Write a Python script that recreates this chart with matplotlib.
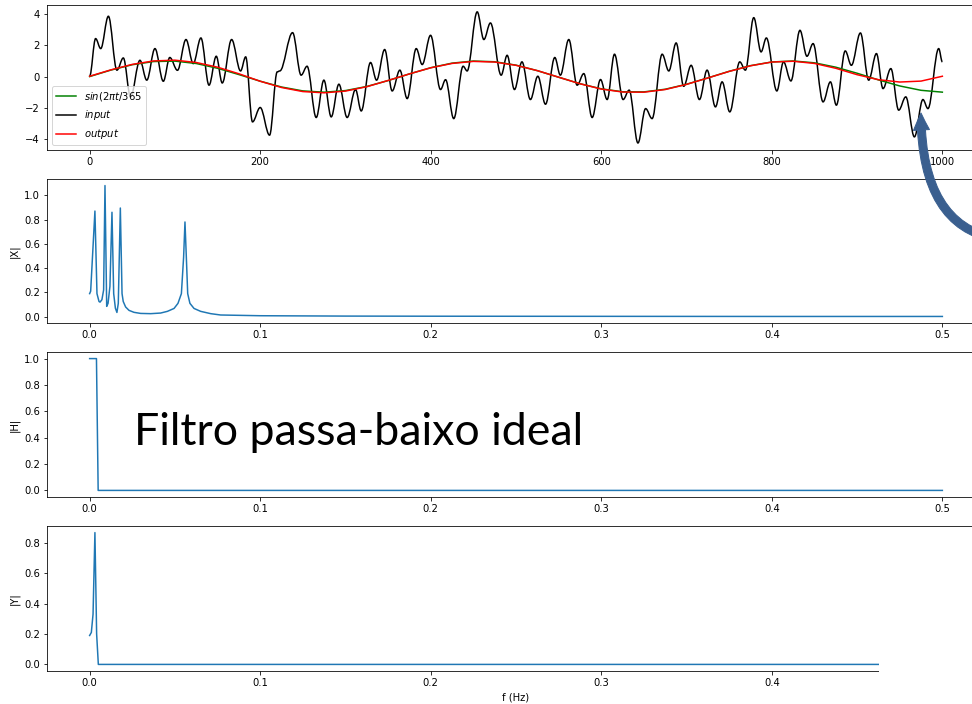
import numpy as np
import matplotlib
matplotlib.use("Agg")
import matplotlib.pyplot as plt
from matplotlib.patches import FancyArrowPatch, Rectangle, PathPatch
from matplotlib.lines import Line2D
from matplotlib.path import Path

# sinal de entrada (maximos e minimos locais)
t_in = [0, 7, 13, 22, 32, 39.5, 48, 59, 67, 76.6, 86.4, 94, 103, 113, 121.5, 130.5,
        140, 148.5, 155.5, 166.5, 177, 183, 191, 200, 211, 220, 223, 238, 248, 255,
        265.7, 274.7, 283.3, 292.3, 302, 311.8, 318.5, 329.4, 336.5, 346, 354.8, 363.8,
        372.4, 383, 390, 399.8, 411.5, 417.4, 427, 438, 442.7, 454.5, 462.3, 470, 482.6,
        489.6, 498.2, 507, 516.9, 525.6, 534.6, 545.5, 552, 561.9, 571.7, 579.5, 589.3,
        599.1, 606.9, 615.5, 625.6, 632.7, 643, 652, 659.6, 671.4, 679.2, 687.8, 696.7,
        705.4, 715.1, 724.1, 733.9, 741.7, 750.7, 762.4, 769, 778.8, 787.4, 793.6, 805.9,
        813.7, 822.4, 833, 841.2, 848.4, 860.1, 868.7, 875.7, 886.1, 893.3, 903.9, 913.6,
        922.7, 930.4, 939.6, 948.8, 957.1, 967.2, 977.2, 983.1, 995.7, 1000]
x_in = [0.02, 2.43, 1.79, 3.86, 0.41, 1.19, -1.3, 1.04, -0.23, 1.79, -0.30, 1.22, 0.40, 2.37, 0.83, 2.47,
        -0.55, 1.30, -0.41, 2.37, 0.36, 1.26, -2.9, -1.98, -3.75, 0.30, 0.36, 2.81, 0.09, 0.66,
        -2.62, -0.23, -2.58, -0.49, -2.62, -0.83, -2.2, 0.90, -0.23, 1.73, -0.92, 0.41,
        -1.41, 1.79, 0.77, 2.64, -0.83, -0.2, -2.69, 0.66, 0.36, 4.14, 2.37, 3.43, 0.09,
        1.36, -0.83, 0.94, -1.47, 0.02, -1.77, 1.22, 0.09, 2.37, -0.55, 0.19, -2.62,
        -0.19, -1.47, 1.43, -1.47, -0.87, -4.25, -2.05, -2.69, 1.43, 0.36, 2.15, -0.62,
        0.72, -1.47, 0.41, -1.94, -0.34, -2.26, 0.94, 0.41, 3.77, 1.58, 2.47, -0.92,
        0.94, -0.28, 2.96, 1.3, 2.11, -1.62, -0.34, -1.83, 1.64, 0.72, 2.79, -0.23,
        1.47, -0.77, 0.51, -2.15, -1.30, -3.86, -1.47, -2.05, 1.79, 0.94]

t_s = np.arange(0, 1001, 25)
seno = [0, 0.417, 0.758, 0.961, 0.989, 0.836, 0.531, 0.128, -0.296, -0.668, -0.918,
        -1.0, -0.897, -0.635, -0.257, 0.171, 0.567, 0.859, 0.994, 0.948, 0.730, 0.378,
        -0.043, -0.456, -0.786, -0.972, -0.981, -0.811, -0.493, -0.086, 0.337, 0.699,
        0.934, 0.998, 0.880, 0.600, 0.213, -0.213, -0.601, -0.880, -0.998]
saida = [0.02, 0.43, 0.78, 1.0, 1.05, 0.9, 0.6, 0.18, -0.3, -0.7, -0.96,
         -1.04, -0.93, -0.65, -0.25, 0.17, 0.56, 0.84, 0.97, 0.93, 0.72, 0.38,
         -0.04, -0.46, -0.8, -0.99, -1.0, -0.83, -0.5, -0.09, 0.33, 0.69,
         0.93, 0.98, 0.84, 0.53, 0.12, -0.2, -0.35, -0.29, 0.02]

# espectros
fX = [0.0, 0.0006, 0.0031, 0.0043, 0.0055, 0.0061, 0.0072, 0.0082, 0.0090, 0.0100, 0.0108,
      0.0119, 0.0131, 0.0141, 0.0151, 0.0160, 0.0168, 0.0180, 0.0190, 0.0197, 0.0211, 0.0231,
      0.0260, 0.0299, 0.0358, 0.0416, 0.0456, 0.0495, 0.0518, 0.0538, 0.0551, 0.0559, 0.0567,
      0.0575, 0.0588, 0.0612, 0.0651, 0.0710, 0.0768, 0.1, 0.15, 0.2, 0.3, 0.4, 0.5]
X = [0.19, 0.21, 0.87, 0.19, 0.125, 0.12, 0.14, 0.22, 1.08, 0.085, 0.11,
     0.25, 0.86, 0.19, 0.07, 0.035, 0.11, 0.895, 0.19, 0.125, 0.08, 0.052,
     0.036, 0.027, 0.025, 0.03, 0.044, 0.068, 0.11, 0.19, 0.49, 0.78, 0.49,
     0.19, 0.11, 0.068, 0.044, 0.025, 0.014, 0.008, 0.005, 0.004, 0.003, 0.002, 0.002]

fH = [0.0, 0.004, 0.005, 0.5]
H = [1.0, 1.0, 0.0, 0.0]

fY = [0.0, 0.001, 0.002, 0.0031, 0.0041, 0.0051, 0.5]
Y = [0.19, 0.21, 0.33, 0.866, 0.2, 0.0, 0.0]

W, Hpx = 972, 704
fig = plt.figure(figsize=(W / 72, Hpx / 72), dpi=72)

def pos(top, bottom, left=47, right=985):
    return [left / W, 1 - bottom / Hpx, (right - left) / W, (bottom - top) / Hpx]

ax1 = fig.add_axes(pos(5, 150))
ax2 = fig.add_axes(pos(179, 323))
ax3 = fig.add_axes(pos(352, 497))
ax4 = fig.add_axes(pos(526, 671))

ax1.plot(t_s, seno, color="green")

# curva de entrada desenhada com bezier (tangente horizontal nos extremos)
verts = [(t_in[0], x_in[0])]
codes = [Path.MOVETO]
for i in range(1, len(t_in)):
    t0, v0, t1, v1 = t_in[i - 1], x_in[i - 1], t_in[i], x_in[i]
    d = (t1 - t0) * 0.36
    verts += [(t0 + d, v0), (t1 - d, v1), (t1, v1)]
    codes += [Path.CURVE4] * 3
ax1.add_patch(PathPatch(Path(verts, codes), facecolor="none", edgecolor="black", lw=1.5))

ax1.plot(t_s, saida, color="red")
ax1.set_xlim(-50, 1050)
ax1.set_ylim(-4.70, 4.58)
handles = [Line2D([], [], color="green"), Line2D([], [], color="black"),
           Line2D([], [], color="red")]
ax1.legend(handles, ["$sin(2\\pi t/365$", "$input$", "$output$"], loc="lower left")

ax2.plot(fX, X)
ax2.set_ylabel("|X|")
ax3.plot(fH, H)
ax3.set_ylabel("|H|")
ax4.plot(fY, Y)
ax4.set_ylabel("|Y|")
ax4.set_xlabel("f (Hz)")
for ax in (ax2, ax3, ax4):
    ax.set_xlim(-0.025, 0.525)

# recorte do slide no canto inferior direito
fig.add_artist(Rectangle((879 / W, 0), 1, 1 - 529 / Hpx, transform=fig.transFigure,
                         facecolor="white", edgecolor="none", zorder=10))

# texto do slide
txt = fig.text(134 / W, 1 - 445 / Hpx, "Filtro passa-baixo ideal", fontsize=50,
               family="Lato", ha="left", va="baseline", color="black")
r = fig.canvas.get_renderer()
wtxt = txt.get_window_extent(r).width
txt.set_fontsize(50 * 450 / wtxt)

# seta curva
pts = [(1005 / W, 1 - 240 / Hpx), (921 / W, 1 - 232 / Hpx), (921 / W, 1 - 113 / Hpx)]
seta = FancyArrowPatch(path=Path(pts, [Path.MOVETO, Path.CURVE3, Path.CURVE3]),
                       transform=fig.transFigure,
                       arrowstyle="simple,head_length=17,head_width=16,tail_width=8",
                       mutation_scale=1, color="#3A5F8F", zorder=11)
fig.add_artist(seta)

fig.savefig("out.png", dpi=72)
